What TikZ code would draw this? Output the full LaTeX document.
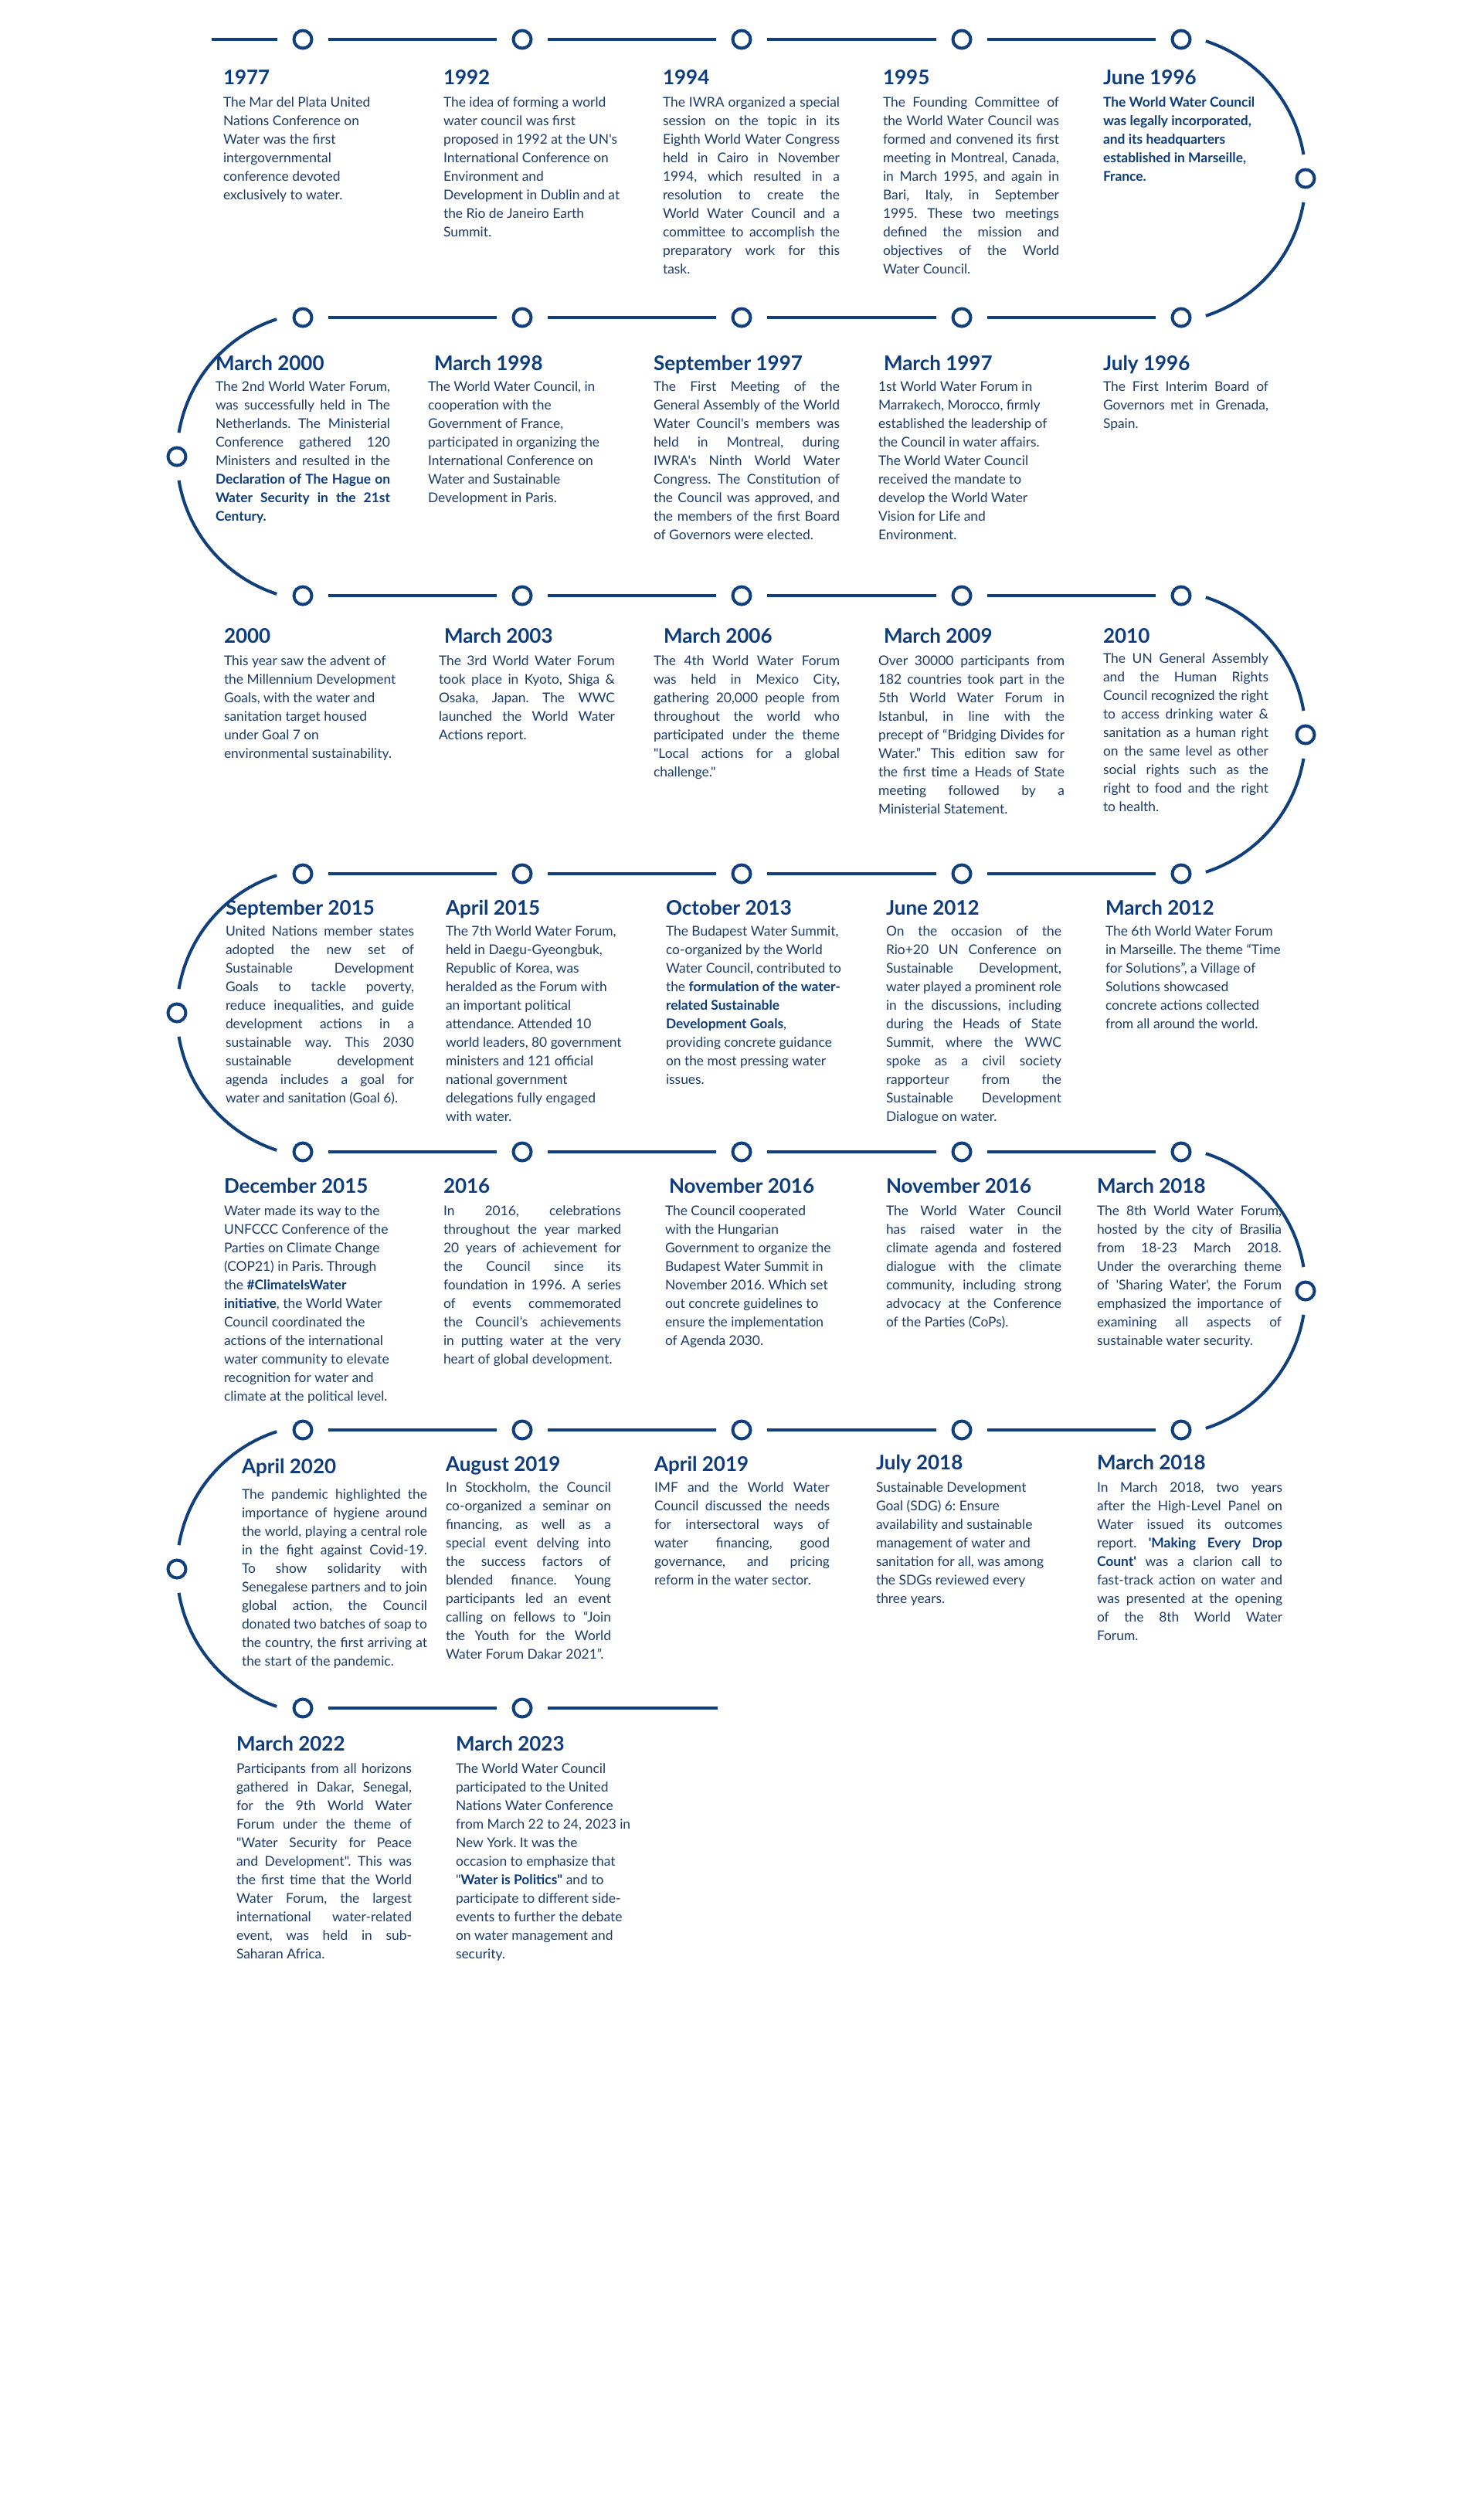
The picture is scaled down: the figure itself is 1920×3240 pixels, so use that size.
\documentclass[tikz,border=0pt]{standalone}
\usepackage{fontspec}
\setmainfont{Lato}[Ligatures=TeXOff]
\usetikzlibrary{calc}
\definecolor{linec}{HTML}{0F3F7D}
\definecolor{headc}{HTML}{0C3C7E}
\definecolor{bodyc}{HTML}{1C3B6A}
\newcommand\SP{\spaceskip=0pt\relax\xspaceskip=0pt\relax\frenchspacing}
\newcommand\JL[1]{\noindent\hbox to\hsize{\SP #1}}
\newcommand\LL[1]{\noindent\mbox{\SP #1}}
\newcommand\BB[1]{{\bfseries\color{headc}#1}}
\tikzset{
  dot/.style={circle,draw=linec,line width=4pt,minimum size=23pt,inner sep=0pt},
  seg/.style={draw=linec,line width=4.5pt,shorten <=19.5pt,shorten >=19.5pt},
  curve/.style={draw=linec,line width=4pt},
  yr/.style={anchor=base west,inner sep=0pt,outer sep=0pt,text=headc,font=\fontsize{26}{30}\selectfont\bfseries},
  txt/.style={anchor=base west,inner sep=0pt,outer sep=0pt,text=bodyc,font=\fontsize{17.4}{24}\selectfont\SP,execute at begin node=\SP,text width=#1},
  txt/.default=330pt
}
\begin{document}
\begin{tikzpicture}[x=1pt,y=-1pt]
\path[use as bounding box,fill=white] (0,0) rectangle (1920,3240);

% ---- timeline dots ----
\foreach \r/\yy in {1/51,2/411,3/771,4/1131,5/1491,6/1851}{
  \foreach \c/\xx in {1/392,2/676,3/960,4/1245,5/1529}{
    \node[dot] (c\r\c) at (\xx,\yy) {};
  }
}
\node[dot] (c71) at (392,2211) {};
\node[dot] (c72) at (676,2211) {};
% side dots
\node[dot] (r12) at (1690,231) {};
\node[dot] (r34) at (1690,951) {};
\node[dot] (r56) at (1690,1671) {};
\node[dot] (l23) at (229,591) {};
\node[dot] (l45) at (229,1311) {};
\node[dot] (l67) at (229,2031) {};

% ---- straight connectors ----
\coordinate (lead) at (274,51);
\coordinate (tail7) at (929,2211);
\draw[seg,shorten <=0pt] (lead) -- (c11);
\foreach \r in {1,...,6}{
  \foreach \a/\b in {1/2,2/3,3/4,4/5}{
    \draw[seg] (c\r\a) -- (c\r\b);
  }
}
\draw[seg] (c71) -- (c72);
\draw[seg,shorten >=0pt] (c72) -- (tail7);

% ---- curved connectors ----
\foreach \cy in {231,951,1671}{
  \coordinate (ctr) at (1503,\cy);
  \draw[curve] ($(ctr)+(-72:187)$) arc[start angle=-72,end angle=-9.5,radius=187];
  \draw[curve] ($(ctr)+(9.5:187)$) arc[start angle=9.5,end angle=72,radius=187];
}
\foreach \cy in {591,1311,2031}{
  \coordinate (ctl) at (416,\cy);
  \draw[curve] ($(ctl)+(-108:187)$) arc[start angle=-108,end angle=-170.5,radius=187];
  \draw[curve] ($(ctl)+(170.5:187)$) arc[start angle=170.5,end angle=108,radius=187];
}

% ================= ROW 1 =================
\node[yr] (h11) at (289,109) {1977};
\node[txt] (t11) at (289,138) {\SP The Mar del Plata United\\Nations Conference on\\Water was the first\\intergovernmental\\conference devoted\\exclusively to water.};
\node[yr] (h12) at (574,109) {1992};
\node[txt] (t12) at (574,138) {\SP The idea of forming a world\\water council was first\\proposed in 1992 at the UN's\\International Conference on\\Environment and\\Development in Dublin and at\\the Rio de Janeiro Earth\\Summit.};
\node[yr] (h13) at (858,109) {1994};
\node[txt=229pt] (t13) at (858,138) {\JL{The IWRA organized a special}\\\JL{session on the topic in its}\\\JL{Eighth World Water Congress}\\\JL{held in Cairo in November}\\\JL{1994, which resulted in a}\\\JL{resolution to create the}\\\JL{World Water Council and a}\\\JL{committee to accomplish the}\\\JL{preparatory work for this}\\\LL{task.}};
\node[yr] (h14) at (1143,109) {1995};
\node[txt=228pt] (t14) at (1143,138) {\JL{The Founding Committee of}\\\JL{the World Water Council was}\\\JL{formed and convened its first}\\\JL{meeting in Montreal, Canada,}\\\JL{in March 1995, and again in}\\\JL{Bari, Italy, in September}\\\JL{1995. These two meetings}\\\JL{defined the mission and}\\\JL{objectives of the World}\\\LL{Water Council.}};
\node[yr] (h15) at (1428,109) {June 1996};
\node[txt] (t15) at (1428,138) {\SP\BB{The World Water Council}\\\BB{was legally incorporated,}\\\BB{and its headquarters}\\\BB{established in Marseille,}\\\BB{France.}};

% ================= ROW 2 =================
\node[yr] (h21) at (279,479) {March 2000};
\node[txt=226pt] (t21) at (279,506) {\JL{The 2nd World Water Forum,}\\\JL{was successfully held in The}\\\JL{Netherlands. The Ministerial}\\\JL{Conference gathered 120}\\\JL{Ministers and resulted in the}\\\JL{\BB{Declaration of The Hague on}}\\\JL{\BB{Water Security in the 21st}}\\\LL{\BB{Century.}}};
\node[yr] (h22) at (562,479) {March 1998};
\node[txt] (t22) at (554,506) {\SP The World Water Council, in\\cooperation with the\\Government of France,\\participated in organizing the\\International Conference on\\Water and Sustainable\\Development in Paris.};
\node[yr] (h23) at (846,479) {September 1997};
\node[txt=241pt] (t23) at (846,506) {\JL{The First Meeting of the}\\\JL{General Assembly of the World}\\\JL{Water Council's members was}\\\JL{held in Montreal, during}\\\JL{IWRA's Ninth World Water}\\\JL{Congress. The Constitution of}\\\JL{the Council was approved, and}\\\JL{the members of the first Board}\\\LL{of Governors were elected.}};
\node[yr] (h24) at (1144,479) {March 1997};
\node[txt] (t24) at (1137,506) {\SP 1st World Water Forum in\\Marrakech, Morocco, firmly\\established the leadership of\\the Council in water affairs.\\The World Water Council\\received the mandate to\\develop the World Water\\Vision for Life and\\Environment.};
\node[yr] (h25) at (1428,479) {July 1996};
\node[txt=214pt] (t25) at (1428,506) {\JL{The First Interim Board of}\\\JL{Governors met in Grenada,}\\\LL{Spain.}};

% ================= ROW 3 =================
\node[yr] (h31) at (290,832) {2000};
\node[txt] (t31) at (290,861) {\SP This year saw the advent of\\the Millennium Development\\Goals, with the water and\\sanitation target housed\\under Goal 7 on\\environmental sustainability.};
\node[yr] (h32) at (575,832) {March 2003};
\node[txt=228pt] (t32) at (568,861) {\JL{The 3rd World Water Forum}\\\JL{took place in Kyoto, Shiga \&}\\\JL{Osaka, Japan. The WWC}\\\JL{launched the World Water}\\\LL{Actions report.}};
\node[yr] (h33) at (859,832) {March 2006};
\node[txt=241pt] (t33) at (846,861) {\JL{The 4th World Water Forum}\\\JL{was held in Mexico City,}\\\JL{gathering 20,000 people from}\\\JL{throughout the world who}\\\JL{participated under the theme}\\\JL{"Local actions for a global}\\\LL{challenge."}};
\node[yr] (h34) at (1144,832) {March 2009};
\node[txt=241pt] (t34) at (1137,861) {\JL{Over 30000 participants from}\\\JL{182 countries took part in the}\\\JL{5th World Water Forum in}\\\JL{Istanbul, in line with the}\\\JL{precept of “Bridging Divides for}\\\JL{Water.” This edition saw for}\\\JL{the first time a Heads of State}\\\JL{meeting followed by a}\\\LL{Ministerial Statement.}};
\node[yr] (h35) at (1428,832) {2010};
\node[txt=214pt] (t35) at (1428,858) {\JL{The UN General Assembly}\\\JL{and the Human Rights}\\\JL{Council recognized the right}\\\JL{to access drinking water \&}\\\JL{sanitation as a human right}\\\JL{on the same level as other}\\\JL{social rights such as the}\\\JL{right to food and the right}\\\LL{to health.}};

% ================= ROW 4 =================
\node[yr] (h41) at (292,1184) {September 2015};
\node[txt=244pt] (t41) at (292,1211) {\JL{United Nations member states}\\\JL{adopted the new set of}\\\JL{Sustainable Development}\\\JL{Goals to tackle poverty,}\\\JL{reduce inequalities, and guide}\\\JL{development actions in a}\\\JL{sustainable way. This 2030}\\\JL{sustainable development}\\\JL{agenda includes a goal for}\\\LL{water and sanitation (Goal 6).}};
\node[yr] (h42) at (577,1184) {April 2015};
\node[txt] (t42) at (577,1211) {\SP The 7th World Water Forum,\\held in Daegu-Gyeongbuk,\\Republic of Korea, was\\heralded as the Forum with\\an important political\\attendance. Attended 10\\world leaders, 80 government\\ministers and 121 official\\national government\\delegations fully engaged\\with water.};
\node[yr] (h43) at (862,1184) {October 2013};
\node[txt] (t43) at (862,1211) {\SP The Budapest Water Summit,\\co-organized by the World\\Water Council, contributed to\\the \BB{formulation of the water-}\\\BB{related Sustainable}\\\BB{Development Goals},\\providing concrete guidance\\on the most pressing water\\issues.};
\node[yr] (h44) at (1147,1184) {June 2012};
\node[txt=227pt] (t44) at (1147,1211) {\JL{On the occasion of the}\\\JL{Rio+20 UN Conference on}\\\JL{Sustainable Development,}\\\JL{water played a prominent role}\\\JL{in the discussions, including}\\\JL{during the Heads of State}\\\JL{Summit, where the WWC}\\\JL{spoke as a civil society}\\\JL{rapporteur from the}\\\JL{Sustainable Development}\\\LL{Dialogue on water.}};
\node[yr] (h45) at (1431,1184) {March 2012};
\node[txt] (t45) at (1431,1211) {\SP The 6th World Water Forum\\in Marseille. The theme “Time\\for Solutions”, a Village of\\Solutions showcased\\concrete actions collected\\from all around the world.};

% ================= ROW 5 =================
\node[yr] (h51) at (290,1544) {December 2015};
\node[txt] (t51) at (290,1573) {\SP Water made its way to the\\UNFCCC Conference of the\\Parties on Climate Change\\(COP21) in Paris. Through\\the \BB{\#ClimateIsWater}\\\BB{initiative}, the World Water\\Council coordinated the\\actions of the international\\water community to elevate\\recognition for water and\\climate at the political level.};
\node[yr] (h52) at (574,1544) {2016};
\node[txt=230pt] (t52) at (574,1573) {\JL{In 2016, celebrations}\\\JL{throughout the year marked}\\\JL{20 years of achievement for}\\\JL{the Council since its}\\\JL{foundation in 1996. A series}\\\JL{of events commemorated}\\\JL{the Council’s achievements}\\\JL{in putting water at the very}\\\LL{heart of global development.}};
\node[yr] (h53) at (866,1544) {November 2016};
\node[txt] (t53) at (861,1573) {\SP The Council cooperated\\with the Hungarian\\Government to organize the\\Budapest Water Summit in\\November 2016. Which set\\out concrete guidelines to\\ensure the implementation\\of Agenda 2030.};
\node[yr] (h54) at (1147,1544) {November 2016};
\node[txt=227pt] (t54) at (1147,1573) {\JL{The World Water Council}\\\JL{has raised water in the}\\\JL{climate agenda and fostered}\\\JL{dialogue with the climate}\\\JL{community, including strong}\\\JL{advocacy at the Conference}\\\LL{of the Parties (CoPs).}};
\node[yr] (h55) at (1420,1544) {March 2018};
\node[txt=239pt] (t55) at (1420,1573) {\JL{The 8th World Water Forum,}\\\JL{hosted by the city of Brasilia}\\\JL{from 18-23 March 2018.}\\\JL{Under the overarching theme}\\\JL{of 'Sharing Water', the Forum}\\\JL{emphasized the importance of}\\\JL{examining all aspects of}\\\LL{sustainable water security.}};

% ================= ROW 6 =================
\node[yr] (h61) at (313,1907) {April 2020};
\node[txt=240pt] (t61) at (313,1940) {\JL{The pandemic highlighted the}\\\JL{importance of hygiene around}\\\JL{the world, playing a central role}\\\JL{in the fight against Covid-19.}\\\JL{To show solidarity with}\\\JL{Senegalese partners and to join}\\\JL{global action, the Council}\\\JL{donated two batches of soap to}\\\JL{the country, the first arriving at}\\\LL{the start of the pandemic.}};
\node[yr] (h62) at (577,1904) {August 2019};
\node[txt=214pt] (t62) at (577,1931) {\JL{In Stockholm, the Council}\\\JL{co-organized a seminar on}\\\JL{financing, as well as a}\\\JL{special event delving into}\\\JL{the success factors of}\\\JL{blended finance. Young}\\\JL{participants led an event}\\\JL{calling on fellows to “Join}\\\JL{the Youth for the World}\\\LL{Water Forum Dakar 2021”.}};
\node[yr] (h63) at (847,1904) {April 2019};
\node[txt=227pt] (t63) at (847,1931) {\JL{IMF and the World Water}\\\JL{Council discussed the needs}\\\JL{for intersectoral ways of}\\\JL{water financing, good}\\\JL{governance, and pricing}\\\LL{reform in the water sector.}};
\node[yr] (h64) at (1134,1902) {July 2018};
\node[txt] (t64) at (1134,1931) {\SP Sustainable Development\\Goal (SDG) 6: Ensure\\availability and sustainable\\management of water and\\sanitation for all, was among\\the SDGs reviewed every\\three years.};
\node[yr] (h65) at (1420,1902) {March 2018};
\node[txt=240pt] (t65) at (1420,1931) {\JL{In March 2018, two years}\\\JL{after the High-Level Panel on}\\\JL{Water issued its outcomes}\\\JL{report. \BB{'Making Every Drop}}\\\JL{\BB{Count'} was a clarion call to}\\\JL{fast-track action on water and}\\\JL{was presented at the opening}\\\JL{of the 8th World Water}\\\LL{Forum.}};

% ================= ROW 7 =================
\node[yr] (h71) at (306,2266) {March 2022};
\node[txt=227pt] (t71) at (306,2295) {\JL{Participants from all horizons}\\\JL{gathered in Dakar, Senegal,}\\\JL{for the 9th World Water}\\\JL{Forum under the theme of}\\\JL{"Water Security for Peace}\\\JL{and Development". This was}\\\JL{the first time that the World}\\\JL{Water Forum, the largest}\\\JL{international water-related}\\\JL{event, was held in sub-}\\\LL{Saharan Africa.}};
\node[yr] (h72) at (590,2266) {March 2023};
\node[txt] (t72) at (590,2295) {\SP The World Water Council\\participated to the United\\Nations Water Conference\\from March 22 to 24, 2023 in\\New York. It was the\\occasion to emphasize that\\"\BB{Water is Politics"} and to\\participate to different side-\\events to further the debate\\on water management and\\security.};
\end{tikzpicture}
\end{document}
